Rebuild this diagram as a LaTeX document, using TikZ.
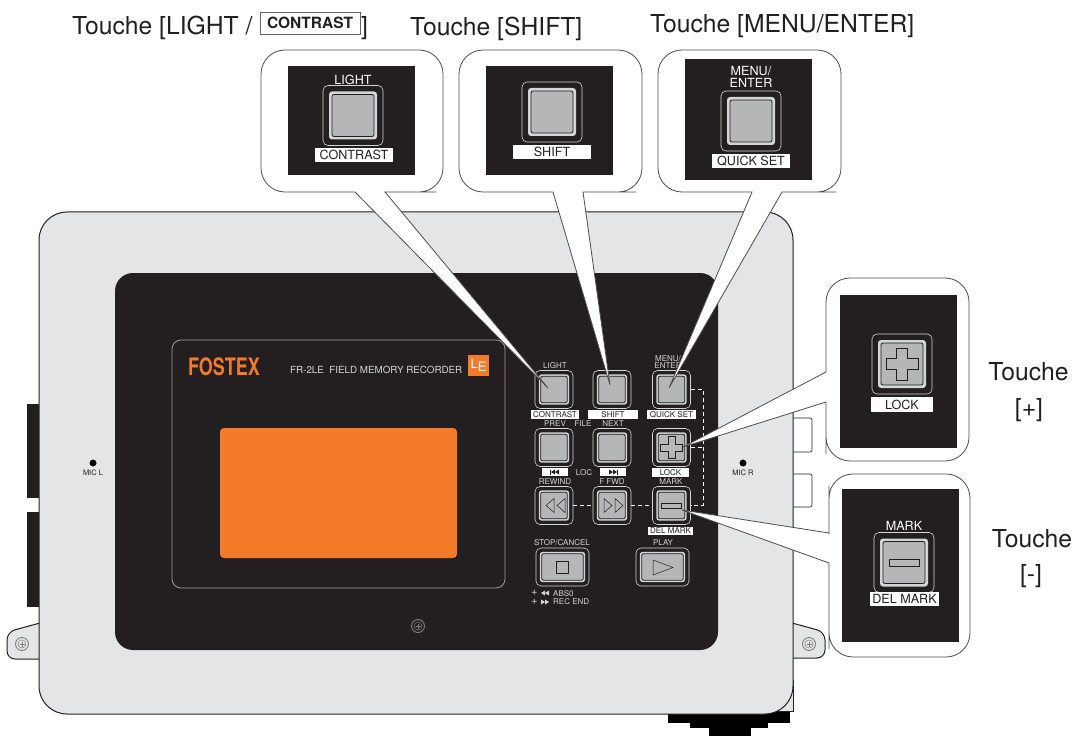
\documentclass[tikz,border=0pt]{standalone}
\usepackage{fontspec}
\setmainfont{TeX Gyre Heros}

\definecolor{bodygray}{HTML}{E3E5E6}
\definecolor{panelblack}{HTML}{231F20}
\definecolor{keygray}{HTML}{B4B6B8}
\definecolor{ringgray}{HTML}{D4D5D6}
\definecolor{lineorange}{HTML}{F47B2A}

\tikzset{
  keyout/.style={draw=ringgray, line width=.6pt, rounded corners=5pt, inner sep=0pt},
  keyring/.style={fill=ringgray, rounded corners=3pt, inner sep=0pt},
  keyface/.style={draw=panelblack, fill=keygray, line width=.8pt, rounded corners=2pt, inner sep=0pt},
  keysym/.style={draw=panelblack, line width=.5pt},
  keylabel/.style={text=ringgray, inner sep=0pt, align=center, font=\fontsize{8}{8}\selectfont},
  biglabel/.style={text=white, inner sep=0pt, align=center, font=\fontsize{12.6}{12.6}\selectfont},
  capbox/.style={fill=white, text=panelblack, inner sep=0pt, font=\fontsize{8}{8}\selectfont},
  bigbox/.style={fill=white, text=panelblack, inner sep=0pt, font=\fontsize{12.6}{12.6}\selectfont},
  title/.style={text=panelblack, inner sep=0pt, font=\fontsize{24.7}{24.7}\selectfont},
  callout/.style={draw=panelblack!80, fill=white, line width=.8pt},
  dashline/.style={draw=white, line width=.7pt, dash pattern=on 4pt off 3pt},
  casing/.style={draw=panelblack, fill=bodygray, line width=1pt},
}

% one key: name, x, y, width, height
\newcommand{\keybtn}[5]{
  \pgfmathsetmacro{\sz}{#5/60}
  \pgfmathsetmacro{\rw}{#4-12*\sz}
  \pgfmathsetmacro{\rh}{#5-12*\sz}
  \pgfmathsetmacro{\fw}{#4-18*\sz}
  \pgfmathsetmacro{\fh}{#5-18*\sz}
  \node[keyout, minimum width=#4pt, minimum height=#5pt] (#1) at (#2,#3) {};
  \node[keyring, minimum width=\rw pt, minimum height=\rh pt] (#1ring) at (#2,#3) {};
  \node[keyface, minimum width=\fw pt, minimum height=\fh pt] (#1face) at (#2,#3) {};
}

% plus sign and minus bar: x, y, half size
\newcommand{\plussym}[3]{
  \draw[keysym] (#1-#3/3,#2-#3) -- (#1+#3/3,#2-#3) -- (#1+#3/3,#2-#3/3) -- (#1+#3,#2-#3/3)
    -- (#1+#3,#2+#3/3) -- (#1+#3/3,#2+#3/3) -- (#1+#3/3,#2+#3) -- (#1-#3/3,#2+#3)
    -- (#1-#3/3,#2+#3/3) -- (#1-#3,#2+#3/3) -- (#1-#3,#2-#3/3) -- (#1-#3/3,#2-#3/3) -- cycle;
}
\newcommand{\minussym}[3]{
  \draw[keysym] (#1-#3,#2-#3/4) rectangle (#1+#3,#2+#3/4);
}
% screw head: x, y, fill
\newcommand{\screw}[3]{
  \draw[gray, fill=#3, line width=.9pt] (#1,#2) circle (6.5);
  \draw[gray, line width=.5pt] (#1,#2) circle (4);
  \draw[gray, line width=.7pt] (#1-2.5,#2) -- (#1+2.5,#2) (#1,#2-2.5) -- (#1,#2+2.5);
}

\begin{document}
\begin{tikzpicture}[x=1pt,y=-1pt]
  \useasboundingbox (0,0) rectangle (1078,743);

  % black parts behind the casing
  \fill[panelblack] (27,404) rectangle (40,498);
  \fill[panelblack] (27,512) rectangle (40,607);
  \fill[black] (668,700) rectangle (790,723);
  \fill[black] (690,700) rectangle (768,728);
  \fill[black] (709,700) rectangle (751,736);
  \draw[casing, line width=.7pt] (760,680) rectangle (793,711);

  % ears and side tabs
  \draw[casing] [rounded corners=8] (40,623) -- (7,632) -- (7,659) -- (40,659);
  \draw[casing] [rounded corners=8] (792,623) -- (825,632) -- (825,658) -- (792,658);
  \draw[panelblack, fill=white, line width=.6pt, rounded corners=2] (793,418) -- (812,418) -- (812,452) -- (793,452);
  \draw[panelblack, fill=white, line width=.6pt, rounded corners=2] (793,474) -- (812,474) -- (812,507) -- (793,507);

  % casing
  \draw[casing, rounded corners=28] (39,212) rectangle (793,714);
  \screw{22}{644}{bodygray}
  \screw{809}{644}{bodygray}

  % mic holes
  \fill[black] (93,463) circle (3.5);
  \node[text=panelblack, inner sep=0pt, font=\fontsize{7.5}{7.5}\selectfont] (micl) at (93,473) {MIC L};
  \fill[black] (743,463) circle (3.5);
  \node[text=panelblack, inner sep=0pt, font=\fontsize{7.5}{7.5}\selectfont] (micr) at (743,473) {MIC R};

  % panel and display
  \fill[panelblack, rounded corners=18] (115,273) rectangle (718,650);
  \draw[gray!80, line width=.8pt, rounded corners=9] (172,340) rectangle (505,588);
  \fill[lineorange, rounded corners=4] (220,428) rectangle (457,558);
  \screw{418}{626}{panelblack}

  % maker and model
  \node[text=lineorange, inner sep=0pt, anchor=base west] (maker) at (188,375)
    {\fontsize{24}{24}\selectfont\scalebox{.75}[1]{\textbf{FOSTEX}}};
  \node[keylabel, anchor=base west, font=\fontsize{9.8}{9.8}\selectfont] (model) at (290,373) {FR-2LE\ \ FIELD MEMORY RECORDER};
  \node[fill=lineorange, text=white, minimum size=21pt, inner sep=0pt, font=\fontsize{13}{13}\selectfont] (lelogo) at (478.5,365.5) {\raisebox{2pt}{L}\raisebox{-1pt}{E}};

  % dashed lines between keys
  \coordinate (dashtop) at (703,389.5);
  \coordinate (dashmid) at (703,447.5);
  \coordinate (dashlow) at (703,505.5);

  % panel keys
  \foreach \name/\x/\y in {light/554/389.5, shift/612/389.5, menu/671.5/389.5,
                           prev/554/447.5, next/612/447.5, lock/671.5/447.5,
                           rewind/554/505.5, ffwd/612/505.5, mark/671.5/505.5}
    {\keybtn{\name}{\x}{\y}{38}{38}}
  \keybtn{stop}{562.5}{567}{53}{38}
  \keybtn{play}{662.5}{567}{53}{38}

  \draw[dashline] (menu.east) -- (dashtop) -- (dashlow) -- (mark.east);
  \draw[dashline] (lock.east) -- (dashmid);
  \draw[dashline] (rewind.east) -- (ffwd.west);
  \draw[dashline] (ffwd.east) -- (mark.west);

  % symbols on the panel keys
  \plussym{671.5}{447.5}{11}
  \minussym{671.5}{505.5}{10}
  \foreach \x in {546,557}
    \draw[keysym] (\x+8,498.5) -- (\x,505.5) -- (\x+8,512.5) -- cycle;
  \foreach \x in {604,615}
    \draw[keysym] (\x,498.5) -- (\x+8,505.5) -- (\x,512.5) -- cycle;
  \draw[keysym] (556.5,561) rectangle (568.5,573);
  \draw[keysym] (653,560) -- (673,567.5) -- (653,575) -- cycle;

  % panel labels
  \node[keylabel] (lblight) at (555,366) {LIGHT};
  \node[keylabel, font=\fontsize{8}{7.5}\selectfont] (lbmenu) at (668,362) {MENU/\\ENTER};
  \node[keylabel] (lbprev) at (555,424) {PREV};
  \node[keylabel] (lbfile) at (583,424) {FILE};
  \node[keylabel] (lbnext) at (613,424) {NEXT};
  \node[keylabel] (lbloc) at (584,473) {LOC};
  \node[keylabel] (lbrew) at (555,482) {REWIND};
  \node[keylabel] (lbfwd) at (612,482) {F FWD};
  \node[keylabel] (lbmark) at (671,482) {MARK};
  \node[keylabel] (lbstop) at (562,543) {STOP/CANCEL};
  \node[keylabel] (lbplay) at (663,543) {PLAY};
  \node[capbox, minimum width=48pt, minimum height=9pt] (bxcontrast) at (555,414.5) {CONTRAST};
  \node[capbox, minimum width=50pt, minimum height=9pt] (bxshift) at (613,414.5) {SHIFT};
  \node[capbox, minimum width=49pt, minimum height=9pt] (bxquick) at (671.5,414.5) {QUICK SET};
  \node[capbox, minimum width=37pt, minimum height=9pt] (bxlock) at (670.5,472.5) {LOCK};
  \node[capbox, minimum width=45pt, minimum height=8.5pt] (bxdel) at (670.5,531) {DEL MARK};
  \node[capbox, minimum width=26pt, minimum height=8.5pt] (bxprev) at (555,472) {};
  \node[capbox, minimum width=26pt, minimum height=8.5pt] (bxnext) at (613,472) {};
  % skip marks in the two small boxes
  \foreach \x in {551,555}
    \fill[panelblack] (\x+4,469.5) -- (\x,472) -- (\x+4,474.5) -- cycle;
  \fill[panelblack] (550,469.5) rectangle (551,474.5);
  \foreach \x in {609,613}
    \fill[panelblack] (\x,469.5) -- (\x+4,472) -- (\x,474.5) -- cycle;
  \fill[panelblack] (617,469.5) rectangle (618,474.5);
  % lines under the stop key
  \node[keylabel, anchor=west, font=\fontsize{11}{11}\selectfont] (lbabs) at (531,593) {+};
  \foreach \x in {541,545}
    \fill[ringgray] (\x+4,590.5) -- (\x,593) -- (\x+4,595.5) -- cycle;
  \node[keylabel, anchor=west] (lbabstxt) at (553,593.5) {ABS0};
  \node[keylabel, anchor=west, font=\fontsize{11}{11}\selectfont] (lbrecend) at (531,602) {+};
  \foreach \x in {541,545}
    \fill[ringgray] (\x,599.5) -- (\x+4,602) -- (\x,604.5) -- cycle;
  \node[keylabel, anchor=west] (lbrectxt) at (553,602) {REC END};

  % callouts
  \draw[callout, rounded corners=24] (261,100) -- (261,50) -- (443,50) -- (443,192) -- (412,192)
    [sharp corners] -- (385,192) -- (548,388) -- (355,192) -- (330,192) [rounded corners=24] -- (261,192) -- cycle;
  \draw[callout, rounded corners=24] (459,100) -- (459,50) -- (642,50) -- (642,192) -- (612,192)
    [sharp corners] -- (583,192) -- (610,385) -- (553,192) -- (530,192) [rounded corners=24] -- (459,192) -- cycle;
  \draw[callout, rounded corners=24] (658,100) -- (658,50) -- (841,50) -- (841,192) -- (812,192)
    [sharp corners] -- (782,192) -- (669,388) -- (752,192) -- (730,192) [rounded corners=24] -- (658,192) -- cycle;
  \draw[callout, rounded corners=24] (826,330) -- (826,278) -- (969,278) -- (969,461) -- (826,461) -- (826,430)
    [sharp corners] -- (826,402) -- (683,447) -- (826,372) -- (826,350) [rounded corners=24] -- cycle;
  \draw[callout, rounded corners=24] (829,510) -- (829,474) -- (970,474) -- (970,657) -- (829,657) -- (829,625)
    [sharp corners] -- (829,563) -- (682,510) -- (829,533) -- (829,520) [rounded corners=24] -- cycle;

  % inside the callouts
  \fill[panelblack] (288,66) rectangle (415,175);
  \fill[panelblack] (486,66) rectangle (613,175);
  \fill[panelblack] (685,59) rectangle (812,180);
  \fill[panelblack] (840,295) rectangle (957,448);
  \fill[panelblack] (842,489) rectangle (959,642);

  \keybtn{biglight}{353}{115.5}{60}{60}
  \keybtn{bigshift}{552}{112}{60}{60}
  \keybtn{bigmenu}{751}{121}{60}{60}
  \keybtn{biglock}{902}{364}{60}{60}
  \keybtn{bigmark}{904}{562.5}{60}{60}
  \plussym{902}{364}{16}
  \minussym{904}{562.5}{15}

  \node[biglabel] (blight) at (353,80) {LIGHT};
  \node[biglabel, font=\fontsize{12.6}{11.5}\selectfont] (bmenu) at (751,77) {MENU/\\ENTER};
  \node[biglabel] (bmark) at (904,526) {MARK};
  \node[bigbox, minimum width=78pt, minimum height=14pt] (bcontrast) at (354,155) {CONTRAST};
  \node[bigbox, minimum width=78pt, minimum height=14pt] (bshift) at (552,152) {SHIFT};
  \node[bigbox, minimum width=78pt, minimum height=14pt] (bquick) at (751,161) {QUICK SET};
  \node[bigbox, minimum width=62pt, minimum height=15pt] (block) at (902,404.5) {LOCK};
  \node[bigbox, minimum width=69pt, minimum height=14pt] (bdel) at (904.5,599) {DEL MARK};

  % titles
  \node[title, anchor=base west] (tlight) at (72,35) {Touche [LIGHT /};
  \node[draw=panelblack!70, line width=.8pt, text=panelblack, inner sep=0pt, minimum width=100pt, minimum height=22pt, font=\fontsize{15.5}{15.5}\selectfont\bfseries] (tcontrast) at (310,23) {CONTRAST};
  \node[title, anchor=base west] (tclose) at (361,35) {]};
  \node[title, anchor=base west] (tshift) at (410,36) {Touche [SHIFT]};
  \node[title, anchor=base west] (tmenu) at (650,33) {Touche [MENU/ENTER]};
  \node[title, anchor=base] (tplus) at (1028.5,380) {Touche};
  \node[title, anchor=base] (tplusk) at (1029,416) {[+]};
  \node[title, anchor=base] (tminus) at (1032,547) {Touche};
  \node[title, anchor=base] (tminusk) at (1031,582) {[-]};
\end{tikzpicture}
\end{document}
